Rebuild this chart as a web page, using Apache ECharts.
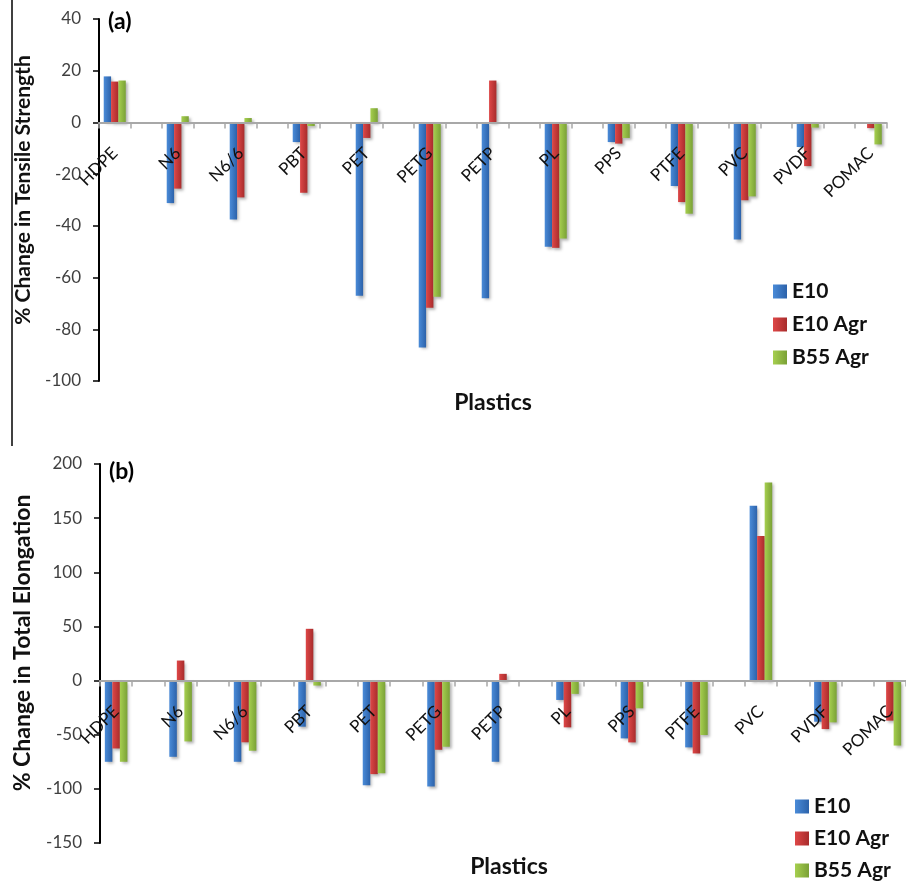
<!DOCTYPE html>
<html>
<head>
<meta charset="utf-8">
<script src="https://cdn.jsdelivr.net/npm/echarts@6/dist/echarts.min.js"></script>
<style>
  html, body { margin: 0; padding: 0; background: #fff; }
  #chart { width: 906px; height: 884px; }
</style>
</head>
<body>
<div id="chart"></div>
<script>
// plastics tested
const plastics = ['HDPE', 'N6', 'N6/6', 'PBT', 'PET', 'PETG', 'PETP', 'PL', 'PPS', 'PTFE', 'PVC', 'PVDF', 'POMAC']
const seriesNames = ['E10', 'E10 Agr', 'B55 Agr']

// (a) % change in tensile strength
const tensileE10 = [17.8, -31.2, -37.5, -7.6, -67, -87, -68, -48.1, -7.6, -24.6, -45.3, -9.5, null]
const tensileE10Agr = [15.8, -25.6, -29, -27.2, -6, -71.7, 16.2, -48.5, -8.2, -30.8, -30.1, -16.9, -2.2]
const tensileB55Agr = [16.2, 2.4, 1.7, -1.4, 5.5, -67.4, null, -44.9, -6, -35.3, -28.6, -2, -8.5]

// (b) % change in total elongation
const elongE10 = [-75, -70.4, -75, -42.6, -96.6, -97.8, -75, -17.9, -53.4, -61.7, 161.4, -38, null]
const elongE10Agr = [-62.7, 18.5, -57, 47.8, -86.4, -63.9, 6.2, -43.2, -57.1, -67.3, 133.6, -44.8, -37]
const elongB55Agr = [-75, -56.2, -64.8, -4.6, -85.5, -61.1, null, -12.3, -25.6, -50.3, 183, -38.6, -60]

// the sheet had an empty row between every plastic, keep that gap
function pad(arr, blank) {
    let out = []
    arr.forEach((v, i) => {
        if (i > 0) out.push(blank)
        out.push(v == null ? blank : v)
    })
    return out
}
const xCats = pad(plastics, '')

const font = 'Lato, "Open Sans", sans-serif'

function grad(a, b) {
    return new echarts.graphic.LinearGradient(0, 0, 1, 0, [
        { offset: 0, color: a },
        { offset: 1, color: b }
    ])
}
const fills = [
    grad('#4a8bd8', '#2c62aa'),
    grad('#de4747', '#a82c2c'),
    grad('#a6cf4f', '#7aa136')
]

const grids = [
    { left: 99, top: 19, width: 787.5, height: 362, min: -100, max: 40, step: 20 },
    { left: 100, top: 464, width: 818.5, height: 379, min: -150, max: 200, step: 50 }
]

// category axis sits on the zero line, labels and ticks with it
function makeX(idx) {
    let g = grids[idx]
    return {
        type: 'category',
        gridIndex: idx,
        data: xCats,
        position: 'bottom',
        offset: -g.height * (0 - g.min) / (g.max - g.min),
        z: 5,
        axisLine: { onZero: false, lineStyle: { color: '#a8a8a8', width: 2 } },
        axisTick: { show: true, interval: 0, length: 6, lineStyle: { color: '#a8a8a8', width: 1.5 } },
        axisLabel: {
            interval: 0, rotate: 45, margin: 28,
            fontSize: 17, fontFamily: font, color: '#111'
        },
        splitLine: { show: false }
    }
}
function makeY(idx) {
    let g = grids[idx]
    return {
        type: 'value',
        gridIndex: idx,
        min: g.min, max: g.max, interval: g.step,
        axisLine: { show: true, lineStyle: { color: '#000', width: 2 } },
        axisTick: { show: true, length: 6, lineStyle: { color: '#000', width: 1.5 } },
        axisLabel: { margin: 18, fontSize: 17, fontFamily: font, color: '#404040' },
        splitLine: { show: false }
    }
}
function makeBar(name, data, idx, k) {
    return {
        name: name,
        type: 'bar',
        xAxisIndex: idx,
        yAxisIndex: idx,
        data: pad(data, '-'),
        barGap: '0%',
        barCategoryGap: '30%',
        itemStyle: {
            color: fills[k],
            shadowColor: 'rgba(0,0,0,0.3)',
            shadowBlur: 3,
            shadowOffsetX: 2,
            shadowOffsetY: 2
        }
    }
}

const legendText = { fontSize: 21, fontWeight: 'bold', fontFamily: font, color: '#111' }

let Mycharts = echarts.init(document.getElementById('chart'))
let option = {
    animation: false,
    grid: grids.map(g => ({ left: g.left, top: g.top, width: g.width, height: g.height })),
    xAxis: [makeX(0), makeX(1)],
    yAxis: [makeY(0), makeY(1)],
    legend: [
        {
            data: seriesNames, orient: 'vertical', left: 773, top: 281, padding: 0,
            itemWidth: 14, itemHeight: 14, itemGap: 12, icon: 'rect',
            textStyle: legendText
        },
        {
            data: seriesNames, orient: 'vertical', left: 795, top: 796, padding: 0,
            itemWidth: 14, itemHeight: 14, itemGap: 11, icon: 'rect',
            textStyle: legendText
        }
    ],
    graphic: [
        { type: 'line', shape: { x1: 12, y1: 0, x2: 12, y2: 446 }, style: { stroke: '#000', lineWidth: 1.5 } },
        { type: 'text', left: 108, top: 10, style: { text: '(a)', font: 'bold 23px ' + font, fill: '#000' } },
        { type: 'text', left: 109, top: 460, style: { text: '(b)', font: 'bold 23px ' + font, fill: '#000' } },
        {
            type: 'text', x: 23, y: 190, rotation: Math.PI / 2,
            style: { text: '% Change in Tensile Strength', font: 'bold 21px ' + font, fill: '#111', align: 'center', verticalAlign: 'middle' }
        },
        {
            type: 'text', x: 23, y: 643, rotation: Math.PI / 2,
            style: { text: '% Change in Total Elongation', font: 'bold 23px ' + font, fill: '#111', align: 'center', verticalAlign: 'middle' }
        },
        {
            type: 'text', x: 493, y: 403,
            style: { text: 'Plastics', font: 'bold 23px ' + font, fill: '#111', align: 'center', verticalAlign: 'middle' }
        },
        {
            type: 'text', x: 509, y: 867,
            style: { text: 'Plastics', font: 'bold 23px ' + font, fill: '#111', align: 'center', verticalAlign: 'middle' }
        }
    ],
    series: [
        makeBar(seriesNames[0], tensileE10, 0, 0),
        makeBar(seriesNames[1], tensileE10Agr, 0, 1),
        makeBar(seriesNames[2], tensileB55Agr, 0, 2),
        makeBar(seriesNames[0], elongE10, 1, 0),
        makeBar(seriesNames[1], elongE10Agr, 1, 1),
        makeBar(seriesNames[2], elongB55Agr, 1, 2)
    ]
}
Mycharts.setOption(option)
</script>
</body>
</html>
